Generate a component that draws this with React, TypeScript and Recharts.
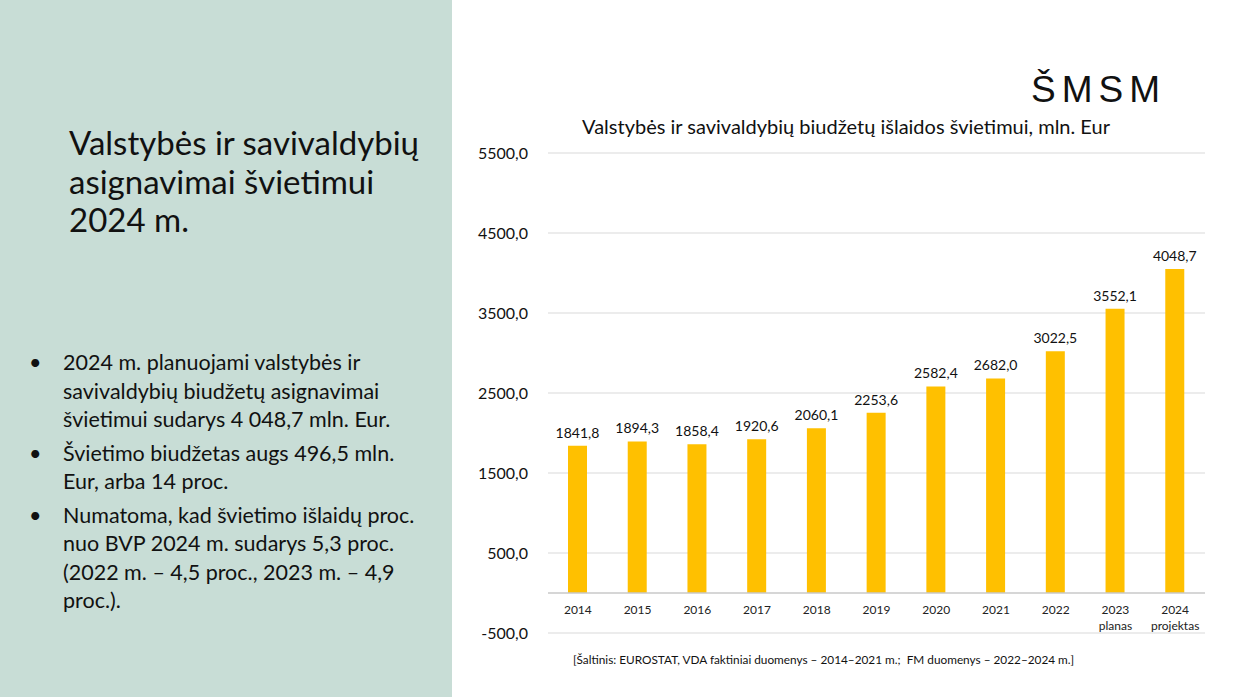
import { BarChart, Bar, XAxis, YAxis, CartesianGrid, ReferenceLine, LabelList } from 'recharts';

// Years and the second line under the last two categories
const years = ['2014', '2015', '2016', '2017', '2018', '2019', '2020', '2021', '2022', '2023', '2024'];
const notes = ['', '', '', '', '', '', '', '', '', 'planas', 'projektas'];
// mln. Eur
const spending = [1841.8, 1894.3, 1858.4, 1920.6, 2060.1, 2253.6, 2582.4, 2682.0, 3022.5, 3552.1, 4048.7];
const yTicks = [-500, 500, 1500, 2500, 3500, 4500, 5500];

const slideTitle = ['Valstybės ir savivaldybių', 'asignavimai švietimui', '2024 m.'];
const bullets = [
  ['2024 m. planuojami valstybės ir', 'savivaldybių biudžetų asignavimai', 'švietimui sudarys 4 048,7 mln. Eur.'],
  ['Švietimo biudžetas augs 496,5 mln.', 'Eur, arba 14 proc.'],
  ['Numatoma, kad švietimo išlaidų proc.', 'nuo BVP 2024 m. sudarys 5,3 proc.', '(2022 m. – 4,5 proc., 2023 m. – 4,9', 'proc.).'],
];

const chartTitle = 'Valstybės ir savivaldybių biudžetų išlaidos švietimui, mln. Eur';
const sourceNote = '[Šaltinis: EUROSTAT, VDA faktiniai duomenys – 2014–2021 m.;  FM duomenys – 2022–2024 m.]';

const data = years.map((y, i) => ({ year: y, note: notes[i], value: spending[i] }));

const font = 'Lato, "Open Sans", sans-serif';
const fmt = (v: any) => Number(v).toFixed(1).replace('.', ',');

// category labels sit just under the zero line, not at the bottom of the plot
const YearTick = (props: any) => {
  const { x, y, payload } = props;
  const note = notes[years.indexOf(String(payload.value))];
  return (
    <g>
      <text x={x} y={y - 19} textAnchor="middle" fontSize={12} fill="#222" fontFamily={font}>{payload.value}</text>
      {note ? <text x={x} y={y - 3} textAnchor="middle" fontSize={12} fill="#222" fontFamily={font}>{note}</text> : null}
    </g>
  );
};

export default function App() {
  return (
    <div style={{ position: 'fixed', left: 0, top: 0, width: 1237, height: 697, background: '#fff', fontFamily: font, overflow: 'hidden' }}>
      {/* left panel */}
      <div style={{ position: 'absolute', left: 0, top: 0, width: 452, height: 697, background: '#C8DDD6' }} />
      <div style={{ position: 'absolute', left: 69, top: 123, fontSize: 33, lineHeight: '38.5px', color: '#111' }}>
        {slideTitle.map((t) => <div key={t}>{t}</div>)}
      </div>
      <div style={{ position: 'absolute', left: 0, top: 348, color: '#111', fontSize: 21.5, lineHeight: '28.5px' }}>
        {bullets.map((b, i) => (
          <div key={i} style={{ position: 'relative', paddingLeft: 63, marginBottom: 5 }}>
            <span style={{ position: 'absolute', left: 29 }}>•</span>
            {b.map((l) => <div key={l}>{l}</div>)}
          </div>
        ))}
      </div>

      {/* right side */}
      <div style={{ position: 'absolute', left: 1031, top: 69, fontFamily: '"Liberation Sans", Arial, sans-serif', fontSize: 37, letterSpacing: 6, color: '#111' }}>
        ŠMSM
      </div>
      <div style={{ position: 'absolute', left: 460, width: 772, top: 114, textAlign: 'center', fontSize: 20, color: '#111' }}>
        {chartTitle}
      </div>

      <div style={{ position: 'absolute', left: 460, top: 100 }}>
        <BarChart width={760} height={560} data={data} margin={{ top: 53, right: 15, left: 8, bottom: 0 }}>
          <CartesianGrid vertical={false} stroke="#d9d9d9" />
          <XAxis dataKey="year" height={27} axisLine={false} tickLine={false} tickSize={0} tickMargin={0} interval={0} tick={YearTick} />
          <YAxis
            width={80}
            domain={[-500, 5500]}
            ticks={yTicks}
            tickFormatter={fmt}
            axisLine={false}
            tickLine={false}
            tickMargin={14}
            tick={{ fontSize: 16, fill: '#111', fontFamily: font }}
          />
          <ReferenceLine y={0} stroke="#c8c8c8" strokeWidth={1.5} />
          <Bar dataKey="value" fill="#FFC000" barSize={19} isAnimationActive={false}>
            <LabelList dataKey="value" position="top" offset={8} formatter={fmt} fontSize={14} fill="#111" fontFamily={font} />
          </Bar>
        </BarChart>
      </div>

      <div style={{ position: 'absolute', left: 573, top: 652, fontSize: 11.8, color: '#111', whiteSpace: 'pre' }}>
        {sourceNote}
      </div>
    </div>
  );
}
